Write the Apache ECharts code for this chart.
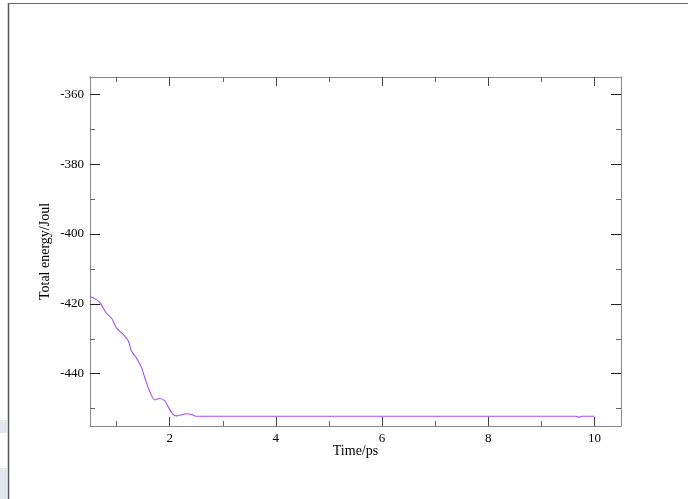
<!DOCTYPE html>
<html>
<head>
<meta charset="utf-8">
<script src="https://cdn.jsdelivr.net/npm/echarts@6/dist/echarts.min.js"></script>
<style>
html,body{margin:0;padding:0;background:#fff;}
#chart{width:688px;height:499px;}
</style>
</head>
<body>
<div id="chart"></div>
<script>
// Data
var timePs = [0.5, 0.59, 0.68, 0.745, 0.81, 0.91, 0.995, 1.12, 1.22, 1.28, 1.37, 1.47, 1.53, 1.62, 1.72, 1.81, 1.91, 1.97, 2.06, 2.13, 2.22, 2.31, 2.41, 2.50, 3.0, 4.0, 5.0, 6.0, 7.0, 8.0, 9.0, 9.65, 9.71, 9.76, 10.0];
var totalEnergy = [-417.9, -418.5, -419.5, -421.1, -422.7, -424.2, -426.8, -428.7, -430.6, -433.5, -435.4, -438.2, -441.1, -444.9, -447.5, -447.1, -447.8, -449.4, -451.6, -452.1, -451.8, -451.5, -451.7, -452.2, -452.2, -452.2, -452.2, -452.2, -452.2, -452.2, -452.2, -452.2, -452.5, -452.2, -452.2];
var xMajorTicks = [2, 4, 6, 8, 10];
var xMinorTicks = [1, 3, 5, 7, 9];
var yMajorTicks = [-440, -420, -400, -380, -360];
var yMinorTicks = [-450, -430, -410, -390, -370];
var xRange = [0.5, 10.5];
var yRange = [-455, -355];

var serif = '"Liberation Serif", "DejaVu Serif", serif';
var axisLineStyle = {color: '#888', width: 1};

function xAx(pos, ticks, len, showLabel, extra) {
  var a = {
    type: 'value', position: pos, min: xRange[0], max: xRange[1],
    axisLine: {show: true, onZero: false, lineStyle: axisLineStyle},
    axisTick: {show: true, inside: true, length: len, customValues: ticks, lineStyle: {color: len > 6 ? '#444' : '#666', width: 1}},
    axisLabel: {show: showLabel, customValues: ticks, color: '#000', fontFamily: serif, fontSize: 13, margin: 6},
    splitLine: {show: false}
  };
  for (var k in extra) a[k] = extra[k];
  return a;
}
function yAx(pos, ticks, len, showLabel, extra) {
  var a = {
    type: 'value', position: pos, min: yRange[0], max: yRange[1],
    axisLine: {show: true, onZero: false, lineStyle: axisLineStyle},
    axisTick: {show: true, inside: true, length: len, customValues: ticks, lineStyle: {color: len > 6 ? '#222' : '#666', width: 1}},
    axisLabel: {show: showLabel, customValues: ticks, color: '#000', fontFamily: serif, fontSize: 13, margin: 6},
    splitLine: {show: false}
  };
  for (var k in extra) a[k] = extra[k];
  return a;
}

var chart = echarts.init(document.getElementById('chart'), null, {renderer: 'canvas'});
chart.setOption({
  backgroundColor: '#fff',
  animation: false,
  grid: {left: 90, right: 67, top: 77, bottom: 73, containLabel: false},
  xAxis: [
    xAx('bottom', xMajorTicks, 9, true, {name: 'Time/ps', nameLocation: 'middle', nameGap: 18, nameMoveOverlap: false,
      nameTextStyle: {fontFamily: serif, fontSize: 14, color: '#000'}}),
    xAx('bottom', xMinorTicks, 5, false, {}),
    xAx('top', xMajorTicks, 9, false, {}),
    xAx('top', xMinorTicks, 5, false, {})
  ],
  yAxis: [
    yAx('left', yMajorTicks, 10, true, {name: 'Total energy/Joul', nameLocation: 'middle', nameGap: 38, nameMoveOverlap: false,
      nameTextStyle: {fontFamily: serif, fontSize: 14, color: '#000'}}),
    yAx('left', yMinorTicks, 5, false, {}),
    yAx('right', yMajorTicks, 10, false, {}),
    yAx('right', yMinorTicks, 5, false, {})
  ],
  series: [{
    type: 'line',
    xAxisIndex: 0, yAxisIndex: 0,
    data: timePs.map(function (t, i) { return [t, totalEnergy[i]]; }),
    smooth: 0.3,
    showSymbol: false,
    lineStyle: {color: '#a64dff', width: 1.1}
  }],
  graphic: [
    {type: 'rect', shape: {x: 0, y: 420, width: 7, height: 13}, style: {fill: '#e6e6ef'}, silent: true},
    {type: 'rect', shape: {x: 0, y: 468, width: 7, height: 31}, style: {fill: '#e6e6ef'}, silent: true},
    {type: 'line', shape: {x1: 8.5, y1: 3, x2: 8.5, y2: 499}, style: {stroke: '#555', lineWidth: 1.5}, silent: true},
    {type: 'line', shape: {x1: 8, y1: 3.5, x2: 688, y2: 3.5}, style: {stroke: '#666', lineWidth: 1.2}, silent: true}
  ]
});
</script>
</body>
</html>
